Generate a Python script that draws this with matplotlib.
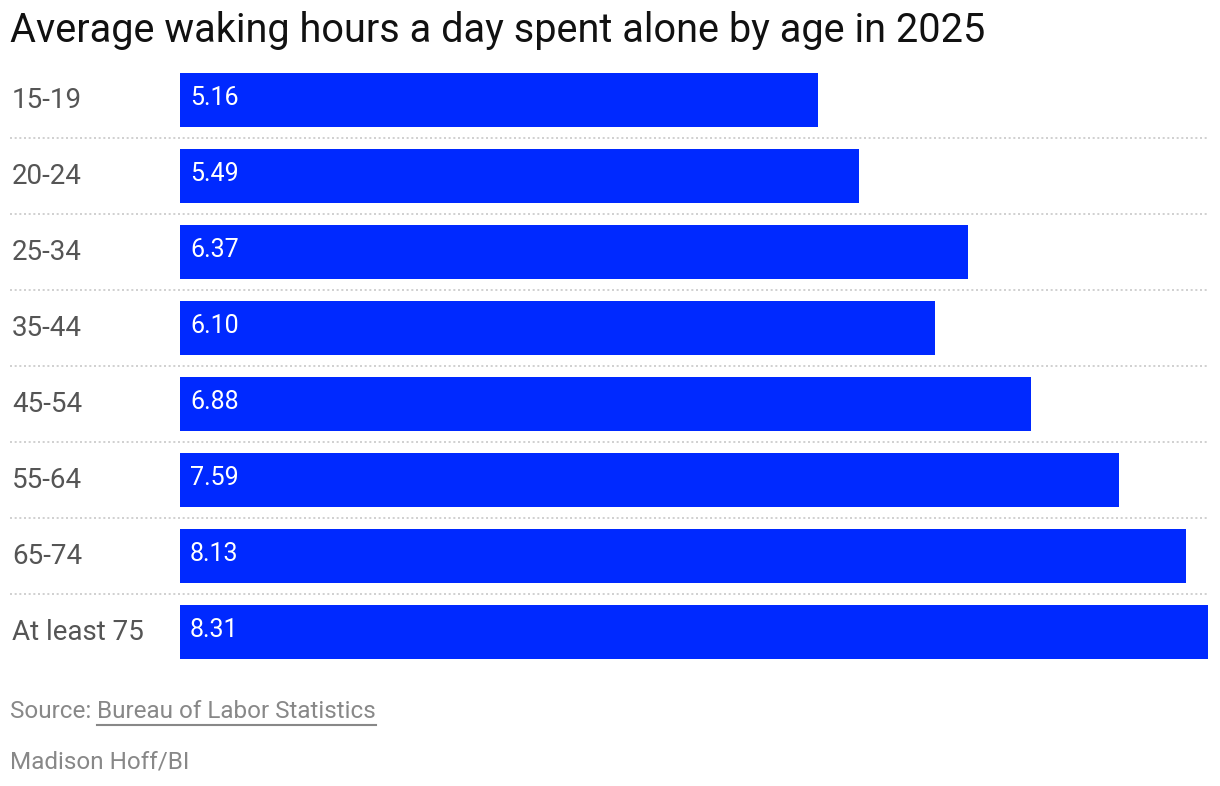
import matplotlib
matplotlib.use("Agg")
import matplotlib.pyplot as plt
import matplotlib.transforms as mtransforms

ages = ["15-19", "20-24", "25-34", "35-44", "45-54", "55-64", "65-74", "At least 75"]
hours = [5.16, 5.49, 6.37, 6.10, 6.88, 7.59, 8.13, 8.31]

title = "Average waking hours a day spent alone by age in 2025"
source_prefix = "Source: "
source_name = "Bureau of Labor Statistics"
credit = "Madison Hoff/BI"

W, H = 1220, 786
BLUE = "#0029ff"
FONT = "Roboto"

plt.rcParams["font.family"] = [FONT, "DejaVu Sans"]

fig = plt.figure(figsize=(W / 100, H / 100), dpi=100)
ax = fig.add_axes([180 / W, 1 - 670 / H, (1208 - 180) / W, (670 - 62) / H])

y = list(range(len(ages)))
ax.barh(y, hours, height=0.70, color=BLUE, left=0)
ax.set_xlim(0, max(hours))
ax.set_ylim(len(ages) - 0.5, -0.5)
ax.axis("off")

# values inside bars
for yi, v in zip(y, hours):
    ax.text(10 / ((1208 - 180) / max(hours)), yi - 0.03, f"{v:.2f}", color="white",
            fontsize=18, va="center", ha="left")

# category labels and dotted separators
trans = mtransforms.blended_transform_factory(fig.transFigure, ax.transData)
for yi, lab in zip(y, ages):
    ax.text(12 / W, yi, lab, transform=trans, fontsize=20, color="#555555",
            va="center", ha="left")
for yi in y[:-1]:
    ax.plot([10 / W, 1208 / W], [yi + 0.5, yi + 0.5], transform=trans,
            color="#c8c8c8", lw=1.2, ls=(0, (1.2, 1.6)), clip_on=False)

fig.text(10 / W, 1 - 30 / H, title, fontsize=28.5, color="#111111",
         va="center", ha="left")

t1 = fig.text(10 / W, 1 - 712 / H, source_prefix, fontsize=17.5, color="#888888",
              va="center", ha="left")
fig.canvas.draw()
r = fig.canvas.get_renderer()
bb = t1.get_window_extent(r)
t2 = fig.text(bb.x1 / W, 1 - 712 / H, source_name, fontsize=17.5, color="#888888",
              va="center", ha="left")
bb2 = t2.get_window_extent(r)
fig.add_artist(plt.Line2D([bb2.x0 / W, bb2.x1 / W], [1 - 725 / H, 1 - 725 / H],
                          transform=fig.transFigure, color="#888888", lw=1.5))

fig.text(10 / W, 1 - 762 / H, credit, fontsize=17.5, color="#888888",
         va="center", ha="left")

fig.savefig("out.png", dpi=100)
